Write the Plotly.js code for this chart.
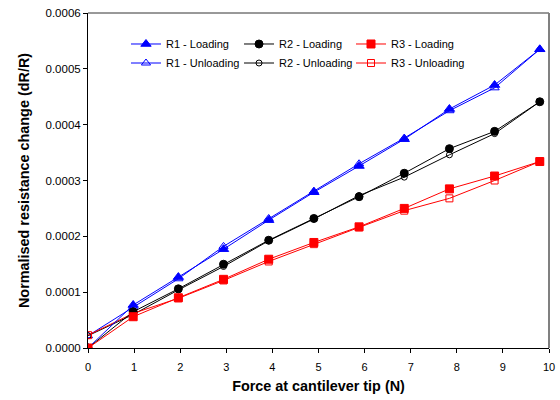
<!DOCTYPE html>
<html>
<head>
<meta charset="utf-8">
<script src="https://cdn.plot.ly/plotly-3.0.1.min.js"></script>
<style>html,body{margin:0;padding:0;background:#fff;}#chart{width:560px;height:400px;}</style>
</head>
<body>
<div id="chart"></div>
<script>
const force = [0, 0.98, 1.96, 2.94, 3.92, 4.9, 5.88, 6.86, 7.84, 8.82, 9.8];
const r1Loading   = [0, 0.000077, 0.000127, 0.000177, 0.000229, 0.000279, 0.000326, 0.000374, 0.000428, 0.000471, 0.000535];
const r1Unloading = [0.000022, 0.000073, 0.000124, 0.000182, 0.000232, 0.000281, 0.000330, 0.000376, 0.000425, 0.000466, 0.000535];
const r2Loading   = [0, 0.000065, 0.000106, 0.000150, 0.000193, 0.000232, 0.000271, 0.000313, 0.000357, 0.000388, 0.000441];
const r2Unloading = [0.000022, 0.000060, 0.000104, 0.000146, 0.000192, 0.000231, 0.000273, 0.000306, 0.000346, 0.000384, 0.000441];
const r3Loading   = [0, 0.000056, 0.000090, 0.000123, 0.000159, 0.000189, 0.000217, 0.000250, 0.000285, 0.000308, 0.000334];
const r3Unloading = [0.000023, 0.000062, 0.000089, 0.000121, 0.000155, 0.000186, 0.000216, 0.000246, 0.000268, 0.000300, 0.000334];
const xTicks = [0,1,2,3,4,5,6,7,8,9,10];
const yTicks = [0, 0.0001, 0.0002, 0.0003, 0.0004, 0.0005, 0.0006];
const yTickText = ['0.0000','0.0001','0.0002','0.0003','0.0004','0.0005','0.0006'];

function tr(name, y, color, symbol, size, legend) {
  return {
    x: force, y: y, name: name, type: 'scatter', mode: 'lines+markers',
    line: {color: color, width: 1},
    marker: {symbol: symbol, size: size, color: color, line: {color: color, width: 1}},
    legend: legend
  };
}
const data = [
  tr('R1 - Unloading', r1Unloading, '#0000FF', 'triangle-up-open', 8, 'legend4'),
  tr('R2 - Unloading', r2Unloading, '#000000', 'circle-open', 6, 'legend5'),
  tr('R3 - Unloading', r3Unloading, '#FF0000', 'square-open', 7, 'legend6'),
  tr('R1 - Loading', r1Loading, '#0000FF', 'triangle-up', 9, 'legend'),
  tr('R2 - Loading', r2Loading, '#000000', 'circle', 8, 'legend2'),
  tr('R3 - Loading', r3Loading, '#FF0000', 'square', 8, 'legend3')
];
function lg(x, y) {
  return {
    orientation: 'h', xref: 'paper', yref: 'paper', xanchor: 'left', yanchor: 'middle', x: x, y: y,
    bgcolor: 'rgba(0,0,0,0)', borderwidth: 0,
    font: {family: 'Liberation Sans, Arial, sans-serif', size: 11, color: '#000'},
    itemwidth: 30
  };
}
const c1 = 0.0824, c2 = 0.3276, c3 = 0.5705, row1 = 0.9075, row2 = 0.8507;
const layout = {
  width: 560, height: 400,
  margin: {l: 88, r: 11, t: 13, b: 52},
  paper_bgcolor: '#fff', plot_bgcolor: '#fff',
  font: {family: 'Liberation Sans, Arial, sans-serif', size: 11, color: '#000'},
  showlegend: true,
  legend: lg(c1, row1), legend2: lg(c2, row1), legend3: lg(c3, row1),
  legend4: lg(c1, row2), legend5: lg(c2, row2), legend6: lg(c3, row2),
  xaxis: {
    range: [0, 10], tickvals: xTicks, ticks: 'outside', ticklen: 4, tickcolor: '#000',
    showgrid: false, zeroline: false, showline: true, linecolor: '#000', linewidth: 1,
    tickfont: {size: 11}, ticklabelstandoff: 5,
    title: {text: '<b>Force at cantilever tip (N)</b>', font: {size: 14.4}, standoff: 8}
  },
  yaxis: {
    range: [0, 0.0006], tickvals: yTicks, ticktext: yTickText, ticks: 'outside', ticklen: 4, tickcolor: '#000',
    showgrid: false, zeroline: false, showline: true, linecolor: '#000', linewidth: 1,
    tickfont: {size: 11.5},
    title: {text: '<b>Normalised resistance change (dR/R)</b>', font: {size: 14.4}, standoff: 12}
  },
  shapes: [
    {type: 'line', xref: 'paper', yref: 'paper', x0: 0, x1: 1, y0: 1, y1: 1, line: {color: '#333', width: 1}},
    {type: 'line', xref: 'paper', yref: 'paper', x0: 1, x1: 1, y0: 0, y1: 1, line: {color: '#808080', width: 2}}
  ]
};
Plotly.newPlot('chart', data, layout, {displayModeBar: false, staticPlot: true});
</script>
</body>
</html>
